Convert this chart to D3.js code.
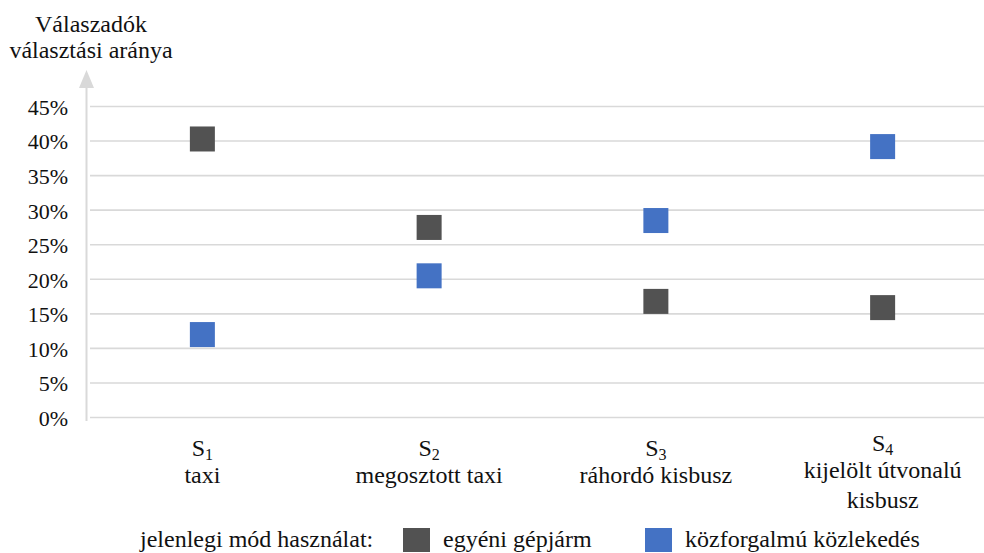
<!DOCTYPE html>
<html><head><meta charset="utf-8">
<script src="https://cdn.jsdelivr.net/npm/d3@7"></script>
<style>
@font-face { font-family: "ChartSerif"; src: local("Liberation Serif"), local("LiberationSerif"), local("LiberationSerif-Regular"), local("Times New Roman"), local("Tinos"); }
</style>
</head><body style="margin:0">
<svg id="c" width="984" height="553"></svg>
<script>
const catCodes = ["1","2","3","4"];
const catNames = [["taxi"],["megosztott taxi"],["ráhordó kisbusz"],["kijelölt útvonalú","kisbusz"]];
const seriesNames = ["egyéni gépjárm","közforgalmú közlekedés"];
const egyeni = [0.403, 0.275, 0.168, 0.159];
const kozforg = [0.120, 0.205, 0.285, 0.392];
const yTicks = [0,0.05,0.10,0.15,0.20,0.25,0.30,0.35,0.40,0.45];
const yTitle = ["Válaszadók","választási aránya"];
const legendTitle = "jelenlegi mód használat:";
const colors = ["#525252","#4472C4"];

const FONT = '"Liberation Serif", "ChartSerif", "Times New Roman", "Tinos", "Times"';
const TXT = "#111";
const svg = d3.select("#c");
const x = d3.scaleBand().domain(catCodes).range([89,996]).padding(0);
const y = d3.scaleLinear().domain([0,0.45]).range([417.5,106.5]);
const cx = d => x(d)+x.bandwidth()/2;

function txt(g, xx, yy, s, fs, anchor){
  return g.append("text").attr("x",xx).attr("y",yy).attr("text-anchor",anchor||"start")
    .style("font-family",()=>FONT).style("font-size",fs+"px").style("fill",TXT).text(s);
}

// gridlines
svg.append("g").selectAll("line").data(yTicks).join("line")
  .attr("x1",90).attr("x2",984).attr("y1",d=>y(d)).attr("y2",d=>y(d))
  .attr("stroke","#d9d9d9").attr("stroke-width",1.6);

// y axis with arrow
svg.append("line").attr("x1",86.5).attr("x2",86.5).attr("y1",86).attr("y2",421)
  .attr("stroke","#d9d9d9").attr("stroke-width",2);
svg.append("path").attr("d","M86.5,70 L79,88 L94,88 Z").attr("fill","#d9d9d9");

// tick labels (drawn from the y scale)
svg.append("g").selectAll("text").data(yTicks).join("text")
  .attr("x",68).attr("y",d=>y(d)).attr("dy","0.38em").attr("text-anchor","end")
  .style("font-family",()=>FONT).style("font-size","22px").style("fill",TXT)
  .text(d3.format(".0%"));

// y title
txt(svg, 91, 32, yTitle[0], 24, "middle");
txt(svg, 91, 58, yTitle[1], 24, "middle");

// category labels
const subBase = [456,456,456,451];
catCodes.forEach((c,i)=>{
  const t = txt(svg, cx(c), subBase[i], "", 24, "middle");
  t.append("tspan").text("S");
  t.append("tspan").style("font-size","16px").attr("dy",4).text(c);
  catNames[i].forEach((ln,j)=>{
    const base = catNames[i].length>1 ? 478 + j*30 : 483;
    txt(svg, cx(c), base, ln, 24, "middle");
  });
});

// markers
const S = 25;
[egyeni,kozforg].forEach((arr,si)=>{
  svg.append("g").selectAll("rect").data(arr).join("rect")
    .attr("x",(d,i)=>cx(catCodes[i])-S/2)
    .attr("y",d=>y(d)-S/2).attr("width",S).attr("height",S).attr("fill",colors[si]);
});

// legend
txt(svg, 140, 547, legendTitle, 24);
const lx=[403,645];
seriesNames.forEach((n,i)=>{
  svg.append("rect").attr("x",lx[i]).attr("y",528).attr("width",27).attr("height",24).attr("fill",colors[i]);
  txt(svg, lx[i]+40, 547, n, 24);
});
</script>
</body></html>
